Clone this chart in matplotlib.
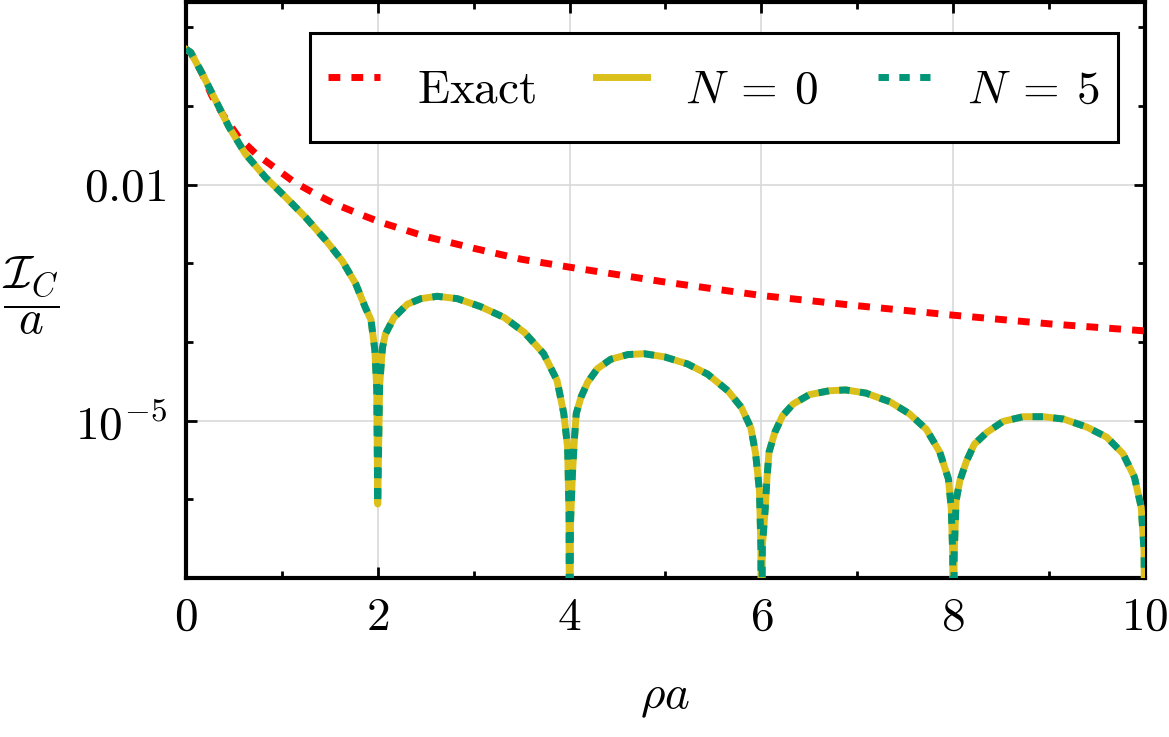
import matplotlib
matplotlib.use("Agg")
import matplotlib.pyplot as plt
import numpy as np
from matplotlib.ticker import FixedLocator, NullFormatter

plt.rcParams["mathtext.fontset"] = "cm"
plt.rcParams["font.family"] = "serif"
plt.rcParams["font.serif"] = ["cmr10", "DejaVu Serif"]
plt.rcParams["axes.formatter.use_mathtext"] = True

# values, as log10 of the plotted quantity
x_exact = [0.0, 0.05, 0.17, 0.27, 0.39, 0.55, 0.73, 0.92, 1.13, 1.35, 1.56,
           1.80, 2.03, 2.5, 3.0, 3.5, 4.0, 5.0, 6.0, 7.0, 8.0, 9.0, 10.0]
log_exact = [-0.28, -0.32, -0.59, -0.87, -1.12, -1.40, -1.61, -1.78, -1.97,
             -2.12, -2.25, -2.37, -2.48, -2.66, -2.81, -2.95, -3.05, -3.24,
             -3.41, -3.54, -3.66, -3.77, -3.86]

# N=0 and N=5 lie on top of each other
x_approx = [0.0, 0.05, 0.17, 0.31, 0.45, 0.62, 0.83, 1.04, 1.25, 1.46, 1.63,
            1.77, 1.87, 1.93, 1.97, 1.99, 2.0, 2.02, 2.05, 2.08, 2.17, 2.31,
            2.45, 2.62, 2.83, 3.07, 3.32, 3.53, 3.73, 3.87, 3.94, 3.98, 3.995,
            4.0, 4.01, 4.03, 4.05, 4.07, 4.12, 4.19, 4.29, 4.43, 4.61, 4.78,
            4.99, 5.23, 5.44, 5.65, 5.79, 5.89, 5.94, 5.98, 5.995, 6.0, 6.01,
            6.04, 6.06, 6.08, 6.14, 6.22, 6.33, 6.50, 6.71, 6.88, 7.09, 7.34,
            7.54, 7.72, 7.86, 7.95, 7.98, 7.995, 8.0, 8.01, 8.03, 8.07, 8.14,
            8.22, 8.35, 8.52, 8.73, 8.94, 9.15, 9.39, 9.60, 9.77, 9.89, 9.96,
            9.99, 10.0]
log_n0 = [-0.28, -0.32, -0.59, -0.93, -1.27, -1.61, -1.91, -2.16, -2.42,
          -2.71, -2.97, -3.26, -3.56, -3.72, -4.10, -4.60, -6.06, -4.55,
          -4.07, -3.90, -3.69, -3.52, -3.45, -3.42, -3.45, -3.55, -3.69,
          -3.88, -4.15, -4.49, -4.91, -5.34, -6.19, -9.0, -6.30, -5.68,
          -5.25, -4.91, -4.70, -4.51, -4.34, -4.22, -4.16, -4.15, -4.19,
          -4.28, -4.41, -4.62, -4.83, -5.09, -5.42, -5.89, -6.60, -9.0,
          -6.60, -6.12, -5.70, -5.40, -5.15, -4.94, -4.79, -4.67, -4.62,
          -4.61, -4.65, -4.76, -4.91, -5.11, -5.40, -5.74, -6.12, -6.70,
          -9.0, -6.70, -6.02, -5.76, -5.51, -5.30, -5.15, -5.01, -4.95,
          -4.95, -4.98, -5.08, -5.21, -5.42, -5.72, -6.10, -6.65, -9.0]
log_n5 = log_n0

xticks = [0, 2, 4, 6, 8, 10]
yticks = [1e-2, 1e-5]
ytick_labels = [r"$0.01$", r"$10^{-5}$"]
legend_labels = [r"$\mathrm{Exact}$", r"$N\:=\:0$", r"$N\:=\:5$"]

fig = plt.figure(figsize=(11.69, 7.37), dpi=100)
ax = fig.add_axes([0.159, 0.2157, 0.8205, 0.781])

red = "#ff0000"
yellow = "#dbc01c"
green = "#009677"

l1, = ax.plot(x_exact, 10 ** np.array(log_exact), color=red, lw=5,
              dashes=(1.7, 1.6), dash_capstyle="butt", zorder=3)
l2, = ax.plot(x_approx, 10 ** np.array(log_n0), color=yellow, lw=5, zorder=4)
l3, = ax.plot(x_approx, 10 ** np.array(log_n5), color=green, lw=5,
              dashes=(1.5, 1.5), dash_capstyle="butt", zorder=5)

ax.set_yscale("log")
ax.set_xlim(0, 10)
ax.set_ylim(1e-7, 2.06)

ax.xaxis.set_major_locator(FixedLocator(xticks))
ax.xaxis.set_minor_locator(FixedLocator([1, 3, 5, 7, 9]))
ax.set_xticklabels([r"$%d$" % v for v in xticks])
ax.yaxis.set_major_locator(FixedLocator(yticks))
ax.yaxis.set_minor_locator(FixedLocator([1e-7, 1e-6, 1e-4, 1e-3, 1e-1, 1]))
ax.yaxis.set_minor_formatter(NullFormatter())
ax.set_yticklabels(ytick_labels)

ax.tick_params(which="both", direction="in", top=True, right=True,
               labelsize=34, width=2)
ax.tick_params(which="major", length=8, pad=14)
ax.tick_params(which="minor", length=5)
for s in ax.spines.values():
    s.set_linewidth(3)

ax.grid(True, which="major", color="#d9d9d9", lw=1.2)
ax.set_axisbelow(True)

ax.set_xlabel(r"$\rho a$", fontsize=34, labelpad=28)
fig.text(0.026, 0.598, r"$\dfrac{\mathcal{I}_C}{a}$", fontsize=34,
         ha="center", va="center")

leg = ax.legend([l1, l2, l3], legend_labels,
                ncol=3, fontsize=34, loc="upper right",
                bbox_to_anchor=(0.972, 0.947), borderaxespad=0,
                fancybox=False, edgecolor="black", framealpha=1,
                handlelength=1.1, handleheight=2.0, handletextpad=0.8,
                columnspacing=1.25, borderpad=0.38)
leg.get_frame().set_linewidth(2.2)

fig.savefig("out.png", dpi=100)
